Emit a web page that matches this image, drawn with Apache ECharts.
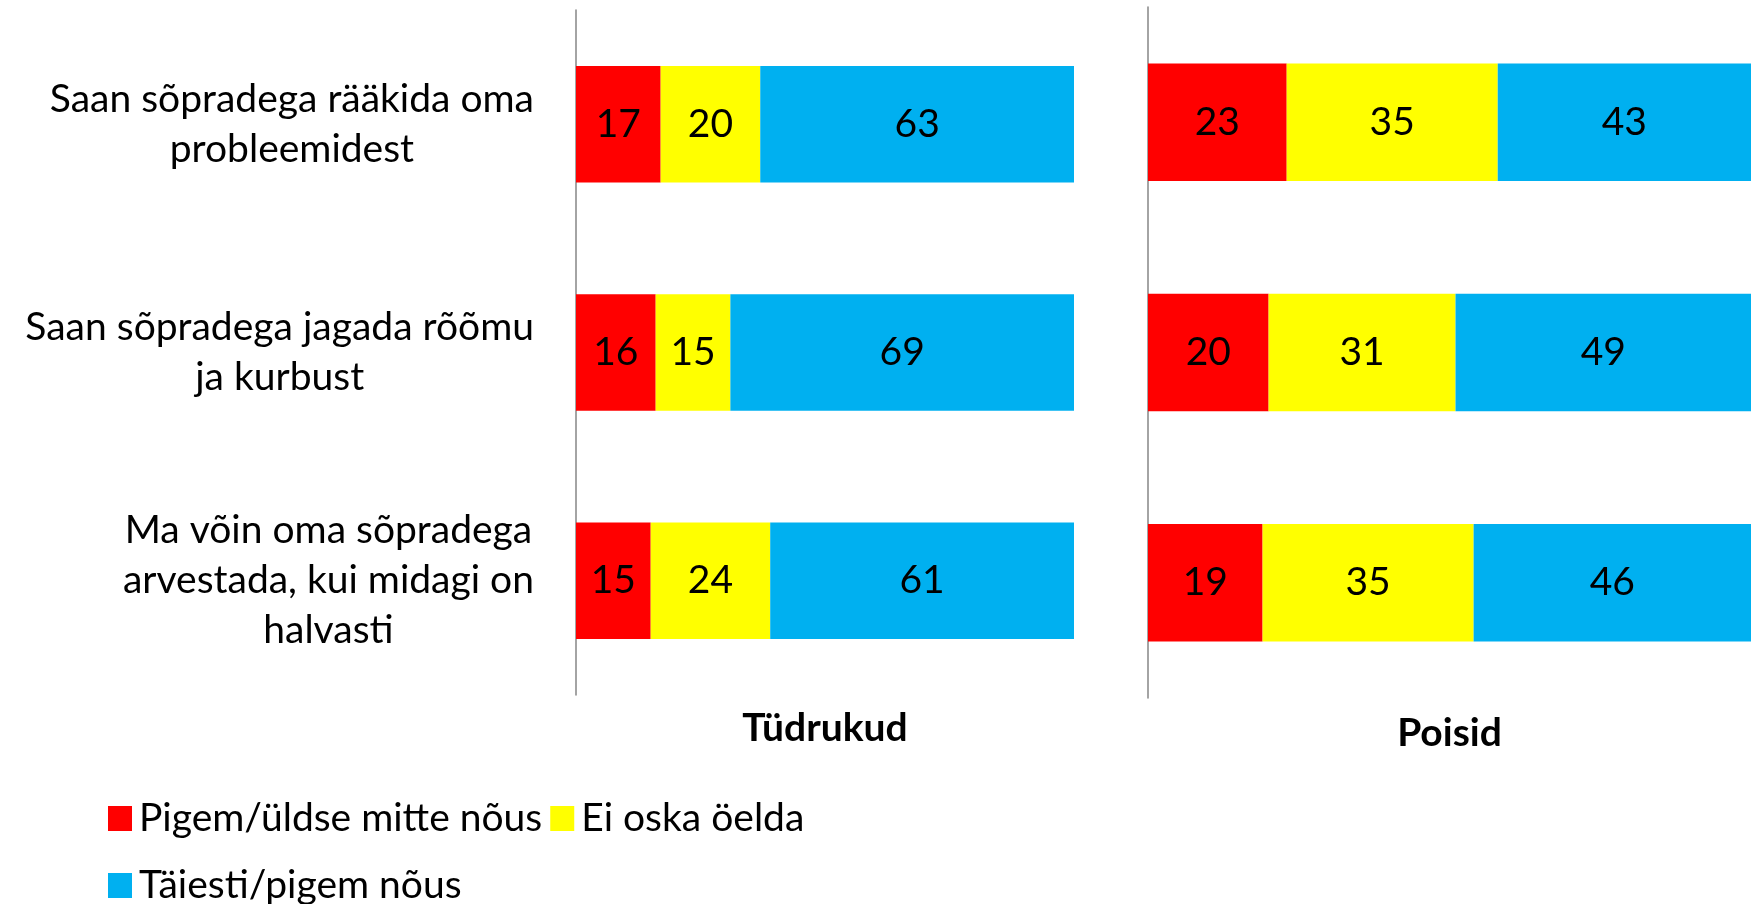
<!DOCTYPE html>
<html>
<head>
<meta charset="utf-8">
<title>Sõbrad</title>
<script src="https://cdn.jsdelivr.net/npm/echarts@6/dist/echarts.min.js"></script>
<style>
  html, body { margin: 0; padding: 0; background: #fff; }
  #chart { width: 1751px; height: 904px; }
</style>
</head>
<body>
<div id="chart"></div>
<script>
// categories (top to bottom)
const categories = [
  "Saan sõpradega rääkida oma\nprobleemidest",
  "Saan sõpradega jagada rõõmu\nja kurbust",
  "Ma võin oma sõpradega\narvestada, kui midagi on\nhalvasti"
];
const seriesNames = ["Pigem/üldse mitte nõus", "Ei oska öelda", "Täiesti/pigem nõus"];
const colors = ["#FF0000", "#FFFF00", "#00B0F0"];

// Tüdrukud
const girlsDisagree = [17, 16, 15];
const girlsUnsure = [20, 15, 24];
const girlsAgree = [63, 69, 61];
// Poisid
const boysDisagree = [23, 20, 19];
const boysUnsure = [35, 31, 35];
const boysAgree = [43, 49, 46];

const FONT = "Lato";
const FS = 39;

const chart = echarts.init(document.getElementById("chart"));

// one stacked bar series
function makeSeries(name, data, idx, stack) {
  return {
    name: name,
    type: "bar",
    stack: stack,
    xAxisIndex: idx,
    yAxisIndex: idx,
    barWidth: "51%",
    data: data,
    itemStyle: { color: colors[seriesNames.indexOf(name)] },
    label: {
      show: true,
      position: "inside",
      color: "#000",
      fontFamily: FONT,
      fontSize: FS
    },
    emphasis: { disabled: true }
  };
}

const valueAxis = (idx, title, gap) => ({
  type: "value",
  gridIndex: idx,
  min: 0,
  max: 100,
  axisLine: { show: false },
  axisTick: { show: false },
  axisLabel: { show: false },
  splitLine: { show: false },
  name: title,
  nameLocation: "middle",
  nameGap: gap,
  nameTextStyle: {
    fontFamily: FONT,
    fontWeight: "bold",
    fontSize: FS,
    color: "#000"
  }
});

const catAxis = (idx, showLabels) => ({
  type: "category",
  gridIndex: idx,
  inverse: true,
  data: categories,
  axisLine: { show: true, lineStyle: { color: "#868686", width: 1.5 } },
  axisTick: { show: false },
  axisLabel: {
    show: showLabels,
    margin: 42,
    color: "#000",
    fontFamily: FONT,
    fontSize: FS,
    // centre each line inside the right-aligned block
    formatter: (v) => v.split("\n").map((l) => "{c|" + l + "}").join("\n"),
    rich: {
      c: { align: "center", fontFamily: FONT, fontSize: FS, lineHeight: 50, color: "#000" }
    }
  }
});

const legendText = { fontFamily: FONT, fontSize: FS, color: "#000", padding: [0, 0, 0, 2] };

chart.setOption({
  animation: false,
  grid: [
    { left: 576, top: 10, width: 498, height: 685 },
    { left: 1148, top: 7, width: 607, height: 691 }
  ],
  legend: [
    {
      data: seriesNames.slice(0, 2),
      left: 108,
      top: 799,
      padding: 0,
      icon: "rect",
      itemWidth: 24,
      itemHeight: 25,
      itemGap: 8,
      textStyle: legendText
    },
    {
      data: seriesNames.slice(2),
      left: 108,
      top: 866,
      padding: 0,
      icon: "rect",
      itemWidth: 24,
      itemHeight: 25,
      textStyle: legendText
    }
  ],
  xAxis: [valueAxis(0, "Tüdrukud", 14), valueAxis(1, "Poisid", 16)],
  yAxis: [catAxis(0, true), catAxis(1, false)],
  series: [
    makeSeries(seriesNames[0], girlsDisagree, 0, "g"),
    makeSeries(seriesNames[1], girlsUnsure, 0, "g"),
    makeSeries(seriesNames[2], girlsAgree, 0, "g"),
    makeSeries(seriesNames[0], boysDisagree, 1, "b"),
    makeSeries(seriesNames[1], boysUnsure, 1, "b"),
    makeSeries(seriesNames[2], boysAgree, 1, "b")
  ]
});
</script>
</body>
</html>
